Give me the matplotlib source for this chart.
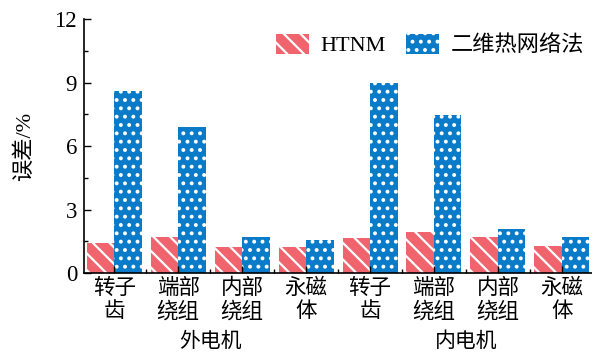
"""
Error comparison of HTNM and 2-D thermal network, outer and inner motor
"""

import numpy as np
import matplotlib.pyplot as plt

plt.rcParams['font.family'] = ['Liberation Serif', 'Noto Sans CJK SC']
plt.rcParams['hatch.linewidth'] = 1.6
plt.rcParams['axes.unicode_minus'] = False

parts = ['转子\n齿', '端部\n绕组', '内部\n绕组', '永磁\n体',
         '转子\n齿', '端部\n绕组', '内部\n绕组', '永磁\n体']
machines = ['外电机', '内电机']
htnm = [1.40, 1.69, 1.21, 1.24, 1.64, 1.95, 1.69, 1.26]
network_2d = [8.60, 6.90, 1.72, 1.54, 9.00, 7.48, 2.06, 1.69]

RED = '#F0646E'
BLUE = '#0A7BC8'

fig = plt.figure(figsize=(5.92, 3.55), dpi=100)
ax = fig.add_axes([0.142, 0.231, 0.858, 0.715])

x = np.arange(len(parts))
w = 0.43
ax.bar(x - w / 2, htnm, w, color=RED, edgecolor='white', linewidth=0,
       hatch='\\\\', label='HTNM')
ax.bar(x + w / 2, network_2d, w, color=BLUE, edgecolor='white', linewidth=0,
       hatch='..', label='二维热网络法')

ax.set_xlim(-0.47, len(parts) - 0.53)
ax.set_ylim(0, 12)
ax.set_yticks([0, 3, 6, 9, 12])
ax.set_yticks(np.arange(1.5, 12, 3), minor=True)
ax.set_xticks(x)
ax.set_xticks(np.arange(0.5, len(parts) - 1, 1), minor=True)
ax.set_xticklabels(parts, fontsize=15.5, linespacing=1.22)
ax.tick_params(axis='y', labelsize=16.5, pad=5)
ax.tick_params(which='major', direction='in', length=5, width=1)
ax.tick_params(which='minor', direction='in', length=3, width=1)
ax.tick_params(axis='x', pad=4)

for s in ['top', 'right']:
    ax.spines[s].set_visible(False)
for s in ['left', 'bottom']:
    ax.spines[s].set_linewidth(1.2)

ax.set_ylabel('误差/%', fontsize=16, labelpad=14)

# machine group labels under the part names
for i, name in enumerate(machines):
    ax.text(i * 4 + 1.5, -0.272, name, transform=ax.get_xaxis_transform(),
            ha='center', va='center', fontsize=15)

ax.legend(loc='upper right', ncol=2, frameon=False, fontsize=16,
          handlelength=1.5, handleheight=1.0, columnspacing=0.9,
          handletextpad=0.5, borderaxespad=0.2, bbox_to_anchor=(1.01, 0.995))

fig.savefig('out.png', dpi=100)
